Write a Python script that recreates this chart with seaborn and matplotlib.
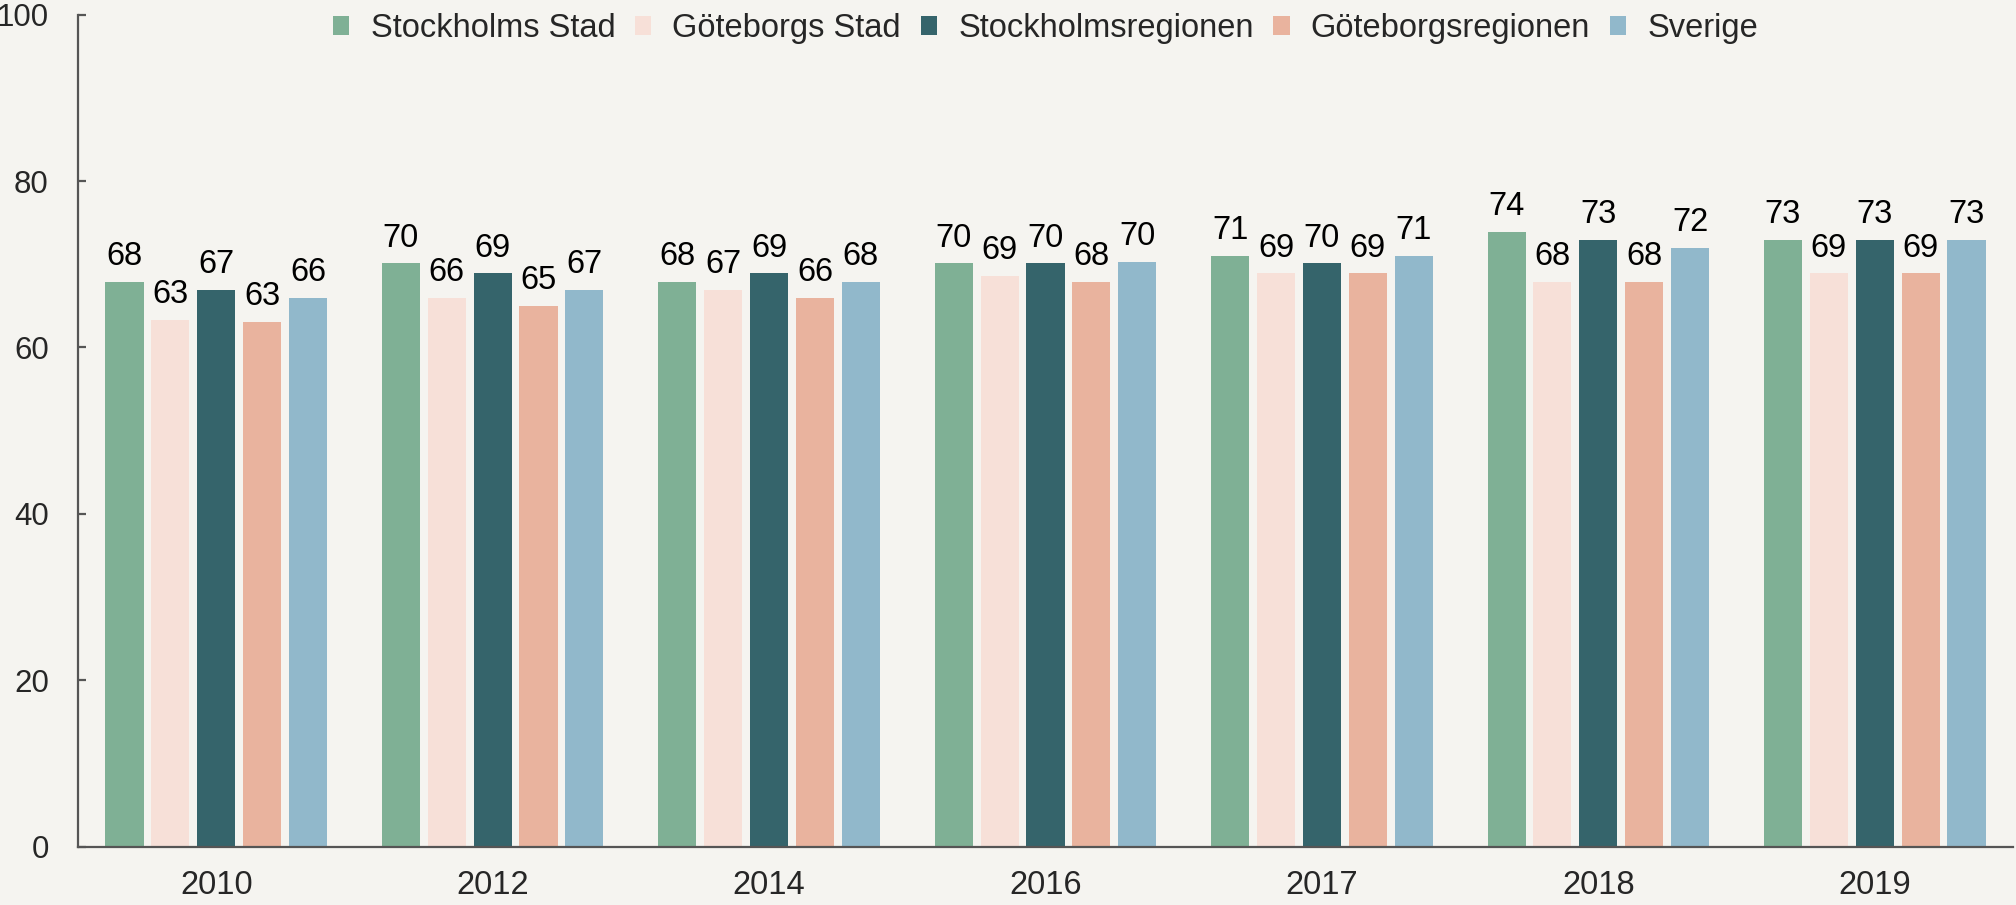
# %%
import numpy as np
import pandas as pd
import matplotlib
matplotlib.use("Agg")
import matplotlib.pyplot as plt
import seaborn as sn
from matplotlib.patches import Patch

# %%
# Data
years = ["2010", "2012", "2014", "2016", "2017", "2018", "2019"]
regions = ["Stockholms Stad", "Göteborgs Stad", "Stockholmsregionen",
           "Göteborgsregionen", "Sverige"]
stockholms_stad = [67.9, 70.1, 67.9, 70.1, 71.0, 73.9, 72.9]
goteborgs_stad = [63.3, 66.0, 66.9, 68.6, 68.9, 67.9, 68.9]
stockholmsregionen = [66.9, 68.9, 68.9, 70.1, 70.1, 72.9, 72.9]
goteborgsregionen = [63.1, 65.0, 66.0, 67.9, 68.9, 67.9, 68.9]
sverige = [66.0, 66.9, 67.9, 70.3, 71.0, 72.0, 72.9]
colors = ["#7FB095", "#F7E0D8", "#35646B", "#E9B39E", "#91B8CB"]

series = [stockholms_stad, goteborgs_stad, stockholmsregionen,
          goteborgsregionen, sverige]
rows = []
for region, vals in zip(regions, series):
    for year, v in zip(years, vals):
        rows.append({"year": year, "region": region, "value": v})
df = pd.DataFrame(rows)

# %%
bg = "#F5F4F0"
sn.set_style("white")
plt.rcParams["font.family"] = ["Liberation Sans", "DejaVu Sans"]

fig = plt.figure(figsize=(20.16, 9.05), dpi=100, facecolor=bg)
ax = fig.add_axes([0.0387, 0.0644, 0.9598, 0.9194])
ax.set_facecolor(bg)

sn.barplot(data=df, x="year", y="value", hue="region", order=years,
           hue_order=regions, palette=colors, width=0.83, gap=0.17,
           saturation=1, linewidth=0, legend=False, ax=ax)

for cont in ax.containers:
    ax.bar_label(cont, fmt="%.0f", padding=7, fontsize=23.5, color="black")

# axes styling
ax.set_xlim(-0.5, 6.5)
ax.set_ylim(0, 100)
ax.set_yticks(np.arange(0, 101, 20))
ax.set_xlabel("")
ax.set_ylabel("")
for s in ["top", "right"]:
    ax.spines[s].set_visible(False)
for s in ["left", "bottom"]:
    ax.spines[s].set_color("#555555")
    ax.spines[s].set_linewidth(1.6)

ax.set_xticks(np.arange(-0.5, 7, 1), minor=True)
ax.tick_params(axis="x", which="major", length=0, pad=17, labelsize=23.5)
ax.tick_params(axis="x", which="minor", direction="in", length=6,
               width=1.6, color="#555555")
ax.tick_params(axis="y", direction="in", length=6, width=1.6,
               color="#555555", pad=21, labelsize=22.5, left=True)

handles = [Patch(facecolor=c, edgecolor="none") for c in colors]
ax.legend(handles, regions, loc="center", bbox_to_anchor=(0.5, 0.983),
          ncol=5, frameon=False, fontsize=23.5, handlelength=0.5,
          handleheight=0.5, handletextpad=0.65, columnspacing=0.6)

fig.savefig("out.png", dpi=100, facecolor=bg)
